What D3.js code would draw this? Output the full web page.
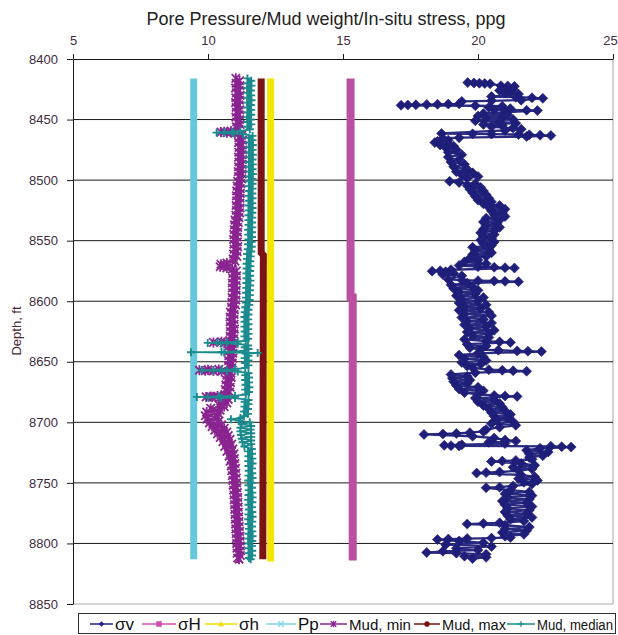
<!DOCTYPE html>
<html lang="en">
<head>
<meta charset="UTF-8">
<title>Pore Pressure / Mud weight / In-situ stress</title>
<script src="https://cdn.jsdelivr.net/npm/d3@7"></script>
<style>
  body { margin: 0; background: #fff; }
  svg { font-family: "Liberation Sans", Arial, sans-serif; }
</style>
</head>
<body>
<div id="chart"></div>
<script>
// axis ticks
const xTicks = [5, 10, 15, 20, 25];
const depthTicks = [8400, 8450, 8500, 8550, 8600, 8650, 8700, 8750, 8800, 8850];
const gridDepths = [8450, 8500, 8550, 8600, 8650, 8700, 8750, 8800];

// series: [depth ft, ppg]
const sigmaV = [
  [8419.5, 19.62], [8419.8, 19.85], [8420.0, 20.05], [8420.2, 20.25], [8420.5, 20.45],
  [8422, 20.85], [8422.3, 21.1], [8422.6, 21.35],
  [8424, 20.9], [8425, 21.3], [8426, 20.8], [8427, 21.2], [8428, 21.0], [8429, 21.5],
  [8431, 20.5], [8431.5, 21.4], [8432, 22.0], [8432.5, 22.4],
  [8434, 21.6], [8434.5, 20.5], [8435, 19.4],
  [8437, 19.3], [8437.2, 18.9], [8437.4, 18.5], [8437.6, 18.1], [8437.8, 17.7], [8438.0, 17.4], [8438.2, 17.15],
  [8438.6, 19.9], [8439, 20.9], [8440, 20.4], [8441, 21.2], [8442, 20.6], [8442.3, 21.8], [8442.6, 22.2],
  [8444, 21.0], [8445, 20.2], [8446, 21.1], [8447, 20.0], [8448, 20.9], [8449, 20.3],
  [8450, 21.3], [8451, 19.9], [8452, 20.8], [8453, 21.4], [8454, 20.2], [8455, 20.9], [8456, 20.5],
  [8457, 21.3], [8458, 21.6], [8459, 21.0],
  [8461.5, 18.65], [8461.8, 19.8], [8462, 20.5], [8462.3, 21.5], [8462.6, 21.9], [8462.9, 22.3], [8463.2, 22.7],
  [8464, 21.8], [8465, 19.3], [8465.5, 18.7],
  [8467, 18.9], [8468, 18.5], [8469, 18.4], [8470, 18.9], [8471, 18.6], [8472, 19.1], [8473, 18.8],
  [8475, 19.2], [8477, 18.9], [8479, 19.4], [8481, 18.9], [8483, 19.3], [8485, 19.0], [8487, 19.5], [8489, 19.1], [8491, 19.6], [8493, 19.2],
  [8494, 19.8], [8495.5, 19.4], [8497, 20.0], [8498.5, 19.6],
  [8501, 18.95], [8502, 19.3], [8503, 19.9],
  [8504.5, 19.6], [8506, 20.1], [8507.5, 19.7], [8509, 20.2],
  [8510.5, 19.8], [8512, 20.3], [8513.5, 19.9], [8515, 20.4], [8516.5, 20.0], [8518, 20.5],
  [8519.5, 20.2], [8521, 20.8], [8522.5, 20.4], [8524, 21.0], [8525.5, 20.5], [8527, 20.9], [8528.5, 20.6], [8530, 21.0],
  [8531.5, 20.3], [8533, 20.8], [8534.5, 20.2], [8536, 20.7], [8537.5, 20.3], [8539, 20.8], [8540.5, 20.2], [8542, 20.6],
  [8543.5, 20.1], [8545, 20.6], [8546.5, 20.2], [8548, 20.5], [8549.5, 20.1], [8551, 20.6], [8552.5, 20.2], [8554, 20.5],
  [8555.5, 19.8], [8557, 20.4], [8558.5, 19.9], [8560, 20.5], [8561.5, 19.8], [8563, 20.3], [8564.5, 19.7],
  [8566, 20.0], [8567.5, 19.5], [8569, 20.3], [8570.5, 19.3], [8571.5, 20.0], [8572, 20.6], [8572.3, 21.0], [8572.6, 21.35],
  [8574, 19.0], [8574.8, 18.6], [8575.2, 18.3], [8575.6, 18.8],
  [8577, 19.1], [8578, 18.7], [8579, 19.4],
  [8582, 18.9], [8582.5, 19.4], [8583, 20.0], [8583.3, 20.6], [8583.6, 21.0], [8583.9, 21.5],
  [8585, 19.6], [8586.5, 19.0], [8588, 19.8], [8589.5, 19.1], [8591, 20.0], [8592.5, 19.3],
  [8594, 19.9], [8595.5, 19.2], [8597, 20.2], [8598.5, 19.4], [8600, 20.0], [8601.5, 19.3], [8603, 20.3], [8604.5, 19.5], [8606, 20.1],
  [8607.5, 19.3], [8609, 20.4], [8610.5, 19.5], [8612, 20.5], [8613.5, 19.4], [8615, 20.2], [8616.5, 19.6], [8618, 20.5],
  [8619.5, 19.5], [8621, 20.3], [8622.5, 19.7], [8624, 20.6], [8625.5, 19.6], [8627, 20.4], [8628.5, 19.8], [8630, 20.4],
  [8631.5, 19.5], [8633, 20.3], [8633.5, 20.8], [8634, 21.2],
  [8635.5, 19.6], [8637, 20.3], [8638.5, 19.7],
  [8640, 20.1], [8640.5, 20.75], [8641, 21.45], [8641.3, 21.85], [8641.6, 22.35],
  [8643, 20.0], [8644.5, 19.3], [8646, 20.2], [8647.5, 19.5], [8649, 20.3], [8650.5, 19.4], [8652, 20.1], [8653.5, 19.6],
  [8655, 19.8], [8656.5, 20.4], [8657, 20.9], [8657.4, 21.3], [8657.8, 21.8],
  [8659, 19.9], [8660.5, 19.0], [8662, 19.6], [8663.5, 19.05], [8665, 19.7], [8666.5, 19.1],
  [8668, 19.6], [8669.5, 19.2], [8671, 20.0], [8672.5, 19.3], [8674, 20.2], [8675.5, 19.5],
  [8677, 20.0], [8677.8, 20.6], [8678.2, 21.0], [8678.6, 21.45],
  [8680, 19.9], [8681.5, 20.6], [8683, 20.0], [8684.5, 20.8], [8686, 20.2], [8687.5, 20.9],
  [8689, 20.4], [8690.5, 21.0], [8692, 20.5], [8693.5, 21.2], [8695, 20.6], [8696.5, 21.1], [8698, 20.7], [8699.5, 21.3],
  [8701, 20.5], [8702.5, 21.4], [8704, 20.8],
  [8706, 20.3], [8707.5, 20.2], [8708.5, 19.7], [8709.2, 19.2], [8709.6, 18.7], [8710, 18.0],
  [8711.5, 19.8], [8713, 20.6], [8714.5, 21.0], [8715.5, 21.4], [8716.5, 20.4], [8717.5, 21.0],
  [8718.5, 19.4], [8719, 18.75], [8719.3, 19.0], [8719.5, 19.3], [8719.8, 22.7], [8720.1, 23.1], [8720.4, 23.45],
  [8721.5, 22.3], [8723, 21.8], [8724.5, 22.6], [8726, 21.9], [8727.5, 22.4], [8729, 21.9],
  [8730.5, 22.0], [8731.5, 21.4], [8732, 20.9], [8732.3, 20.5],
  [8734, 21.6], [8735.5, 22.1], [8737, 21.3], [8738.5, 22.0],
  [8740, 21.5], [8741, 20.8], [8741.5, 20.3], [8741.9, 19.95],
  [8743.5, 21.6], [8745, 22.1], [8746.5, 21.5], [8748, 22.2], [8749.5, 21.7],
  [8751, 22.0], [8752.5, 21.3], [8753.5, 20.8], [8754, 20.3],
  [8756, 21.2], [8757.5, 21.9], [8759, 21.0], [8760.5, 22.0], [8762, 21.1], [8763.5, 21.9], [8765, 20.9], [8766.5, 21.8], [8768, 21.0],
  [8769.5, 22.0], [8771, 21.1], [8772.5, 21.9], [8774, 21.0], [8775.5, 21.8], [8777, 21.1], [8778.5, 22.0], [8780, 21.2],
  [8781.5, 21.7], [8783, 20.8], [8783.5, 20.2], [8784, 19.6], [8785, 21.0],
  [8786.5, 21.9], [8788, 21.0], [8789.5, 21.8], [8791, 20.9], [8792.5, 21.7], [8794, 21.0],
  [8795, 21.2], [8795.6, 20.5], [8796, 19.6], [8796.4, 18.9], [8796.8, 18.5],
  [8798, 19.3], [8799.5, 20.2], [8801, 18.8], [8802.5, 20.5], [8804, 19.2],
  [8805.5, 20.0], [8806.5, 18.7], [8807.5, 18.1], [8808, 19.2], [8809, 20.3],
  [8810.5, 19.5], [8811.5, 20.3], [8812.5, 19.8]
];

const sigmaHmax = [[8416, 15.28], [8597, 15.28], [8597, 15.36], [8814, 15.36]];
const sigmaHmin = [[8416, 12.32], [8815, 12.32]];
const porePressure = [[8416, 9.47], [8813, 9.47]];
const mudMax = [[8416, 11.97], [8560, 11.97], [8562, 12.05], [8813, 12.03]];

const mudMin = [
  [8416, 11.03], [8418, 11.17], [8420, 11.04], [8422, 11.18], [8424, 11.02], [8426, 11.16], [8428, 11.05], [8430, 11.19],
  [8432, 11.03], [8434, 11.17], [8436, 11.02], [8438, 11.15], [8440, 11.04], [8442, 11.18], [8444, 11.05], [8446, 11.16],
  [8448, 11.03], [8450, 11.17], [8452, 11.06], [8454, 11.19], [8456, 11.05], [8458, 11.15],
  [8459.5, 10.85], [8460, 10.6], [8460.4, 10.48], [8460.8, 10.7], [8461.3, 11.0],
  [8463, 11.25], [8465, 11.14], [8467, 11.28], [8469, 11.13], [8471, 11.27], [8473, 11.15], [8475, 11.29], [8477, 11.14],
  [8479, 11.27], [8481, 11.13], [8483, 11.28], [8485, 11.15], [8487, 11.27], [8489, 11.13], [8491, 11.26], [8493, 11.12],
  [8495, 11.27], [8497, 11.13], [8499, 11.25], [8501, 11.1], [8503, 11.22], [8505, 11.08], [8507, 11.2], [8509, 11.06],
  [8511, 11.2], [8513, 11.05], [8515, 11.19], [8517, 11.06], [8519, 11.18], [8521, 11.04], [8523, 11.19], [8525, 11.05],
  [8527, 11.17], [8529, 11.03], [8531, 11.15], [8533, 11.0], [8535, 11.12], [8537, 10.98], [8539, 11.1], [8541, 10.97],
  [8543, 11.1], [8545, 10.96], [8547, 11.08], [8549, 10.95], [8551, 11.09], [8553, 10.96], [8555, 11.1], [8557, 10.97],
  [8559, 11.08], [8561, 10.95], [8563, 11.07], [8565, 10.93], [8567, 11.0],
  [8568.5, 10.7], [8569.5, 10.48], [8570.5, 10.65], [8571.5, 10.45], [8572.5, 10.7], [8573.5, 10.9],
  [8575, 11.05], [8577, 10.92], [8579, 11.06], [8581, 10.91], [8583, 11.05], [8585, 10.9], [8587, 11.04], [8589, 10.9],
  [8591, 11.05], [8593, 10.91], [8595, 11.04], [8597, 10.89], [8599, 11.03], [8601, 10.88], [8603, 11.02], [8605, 10.87],
  [8607, 10.98], [8609, 10.83], [8611, 10.97], [8613, 10.82], [8615, 10.96], [8617, 10.82], [8619, 10.97], [8621, 10.83],
  [8623, 10.98], [8625, 10.83], [8627, 10.96], [8629, 10.82], [8631, 10.95], [8632.5, 10.8],
  [8633.5, 10.5], [8634, 10.2], [8634.4, 10.6], [8635, 10.9],
  [8637, 10.78], [8639, 10.93], [8641, 10.78], [8643, 10.92], [8645, 10.77], [8647, 10.92], [8649, 10.76], [8651, 10.9],
  [8653, 10.75], [8655, 10.88],
  [8656.3, 10.4], [8656.7, 10.0], [8657, 9.68], [8657.3, 9.9], [8657.6, 10.2], [8658, 10.5],
  [8659.5, 10.85], [8661, 10.7], [8663, 10.86], [8665, 10.68], [8667, 10.83], [8669, 10.66], [8671, 10.82], [8673, 10.64],
  [8675, 10.8], [8677, 10.62],
  [8678.3, 10.35], [8678.7, 10.1], [8679, 9.93], [8679.3, 10.15], [8679.6, 10.45],
  [8681, 10.75], [8682.5, 10.55], [8684, 10.7], [8685.5, 10.4], [8687, 10.6],
  [8688.5, 10.1], [8690, 10.45], [8691.5, 9.95], [8693, 10.4], [8694.5, 9.9], [8696, 10.35], [8697.5, 9.95], [8699, 10.4],
  [8700.5, 10.05], [8702, 10.5], [8703.5, 10.15], [8705, 10.6], [8706.5, 10.25], [8708, 10.7], [8709.5, 10.35], [8711, 10.75],
  [8712.5, 10.45], [8714, 10.82], [8716, 10.55], [8718, 10.88], [8720, 10.62], [8722, 10.92], [8724, 10.7], [8726, 10.96],
  [8728, 10.78], [8730, 10.98], [8732, 10.82], [8734, 11.0], [8736, 10.86], [8738, 11.02], [8740, 10.88], [8742, 11.03],
  [8744, 10.9], [8746, 11.05], [8748, 10.92], [8750, 11.06], [8752, 10.93], [8754, 11.07], [8756, 10.95], [8758, 11.09],
  [8760, 10.96], [8762, 11.1], [8764, 10.97], [8766, 11.11], [8768, 10.98], [8770, 11.12], [8772, 10.99], [8774, 11.13],
  [8776, 11.0], [8778, 11.14], [8780, 11.01], [8782, 11.15], [8784, 11.02], [8786, 11.16], [8788, 11.03], [8790, 11.17],
  [8792, 11.04], [8794, 11.18], [8796, 11.05], [8798, 11.19], [8800, 11.06], [8802, 11.2], [8804, 11.07], [8806, 11.21],
  [8808, 11.08], [8810, 11.2], [8812, 11.1], [8813, 11.15]
];

const mudMedian = [
  [8416, 11.46], [8418, 11.6], [8420, 11.47], [8422, 11.61], [8424, 11.45], [8426, 11.59], [8428, 11.46], [8430, 11.6],
  [8432, 11.47], [8434, 11.61], [8436, 11.45], [8438, 11.59], [8440, 11.46], [8442, 11.6], [8444, 11.47], [8446, 11.6],
  [8448, 11.45], [8450, 11.59], [8452, 11.46], [8454, 11.6], [8456, 11.47], [8458, 11.55],
  [8459.5, 11.2], [8460, 10.9], [8460.4, 10.6], [8460.8, 10.32], [8461.2, 10.6], [8461.6, 10.95], [8462, 11.3],
  [8463.5, 11.65], [8465, 11.51], [8467, 11.65], [8469, 11.52], [8471, 11.66], [8473, 11.51], [8475, 11.65], [8477, 11.52],
  [8479, 11.66], [8481, 11.51], [8483, 11.65], [8485, 11.52], [8487, 11.66], [8489, 11.51], [8491, 11.65], [8493, 11.52],
  [8495, 11.66], [8497, 11.51], [8499, 11.65], [8501, 11.52], [8503, 11.65], [8505, 11.51], [8507, 11.65], [8509, 11.52],
  [8511, 11.64], [8513, 11.5], [8515, 11.65], [8517, 11.51], [8519, 11.64], [8521, 11.5], [8523, 11.65], [8525, 11.51],
  [8527, 11.64], [8529, 11.5], [8531, 11.64], [8533, 11.5], [8535, 11.63], [8537, 11.5], [8539, 11.64], [8541, 11.49],
  [8543, 11.63], [8545, 11.49], [8547, 11.63], [8549, 11.5], [8551, 11.62], [8553, 11.48], [8555, 11.62], [8557, 11.47],
  [8559, 11.6], [8561, 11.45], [8563, 11.58], [8565, 11.44], [8567, 11.57], [8569, 11.43], [8571, 11.57], [8573, 11.43],
  [8575, 11.56], [8577, 11.42], [8579, 11.56], [8581, 11.43], [8583, 11.57], [8585, 11.42], [8587, 11.56], [8589, 11.42],
  [8591, 11.55], [8593, 11.41], [8595, 11.55], [8597, 11.41], [8599, 11.54], [8601, 11.4], [8603, 11.53], [8605, 11.38],
  [8607, 11.5], [8609, 11.36], [8611, 11.5], [8613, 11.35], [8615, 11.49], [8617, 11.36], [8619, 11.5], [8621, 11.35],
  [8623, 11.49], [8625, 11.36], [8627, 11.5], [8629, 11.35], [8631, 11.49], [8632.5, 11.4],
  [8633.4, 11.1], [8633.8, 10.7], [8634.1, 10.35], [8634.4, 9.99], [8634.7, 10.5], [8635.2, 11.1],
  [8636.5, 11.48], [8638, 11.36], [8639.5, 11.5], [8641, 11.35], [8641.8, 10.5], [8642.1, 9.37], [8642.4, 10.6], [8642.7, 11.84], [8643.2, 11.4],
  [8645, 11.5], [8647, 11.36], [8649, 11.5], [8651, 11.37], [8653, 11.5], [8655, 11.38],
  [8656.2, 11.0], [8656.6, 10.5], [8657, 9.77], [8657.3, 10.2], [8657.6, 10.7], [8658, 11.1],
  [8659.5, 11.5], [8661, 11.38], [8663, 11.52], [8665, 11.38], [8667, 11.52], [8669, 11.39], [8671, 11.53], [8673, 11.38],
  [8675, 11.52], [8677, 11.4],
  [8678.2, 11.0], [8678.6, 10.4], [8679, 9.59], [8679.3, 10.0], [8679.6, 10.5], [8680, 11.0],
  [8681.5, 11.5], [8683, 11.36], [8685, 11.5], [8687, 11.35], [8689, 11.48], [8691, 11.34], [8693, 11.48], [8695, 11.33],
  [8696.5, 11.2], [8697.5, 10.85], [8698.5, 11.15],
  [8700, 11.55], [8701.5, 11.25], [8703, 11.6], [8704.5, 11.2], [8706, 11.58], [8707.5, 11.2], [8709, 11.6], [8710.5, 11.22],
  [8712, 11.6], [8713.5, 11.25], [8715, 11.6], [8716.5, 11.28], [8718, 11.6], [8720, 11.35],
  [8722, 11.62], [8724, 11.48], [8726, 11.63], [8728, 11.5], [8730, 11.64], [8732, 11.49], [8734, 11.65], [8736, 11.5],
  [8738, 11.63], [8740, 11.51], [8742, 11.64], [8744, 11.5], [8746, 11.65], [8748, 11.49], [8750, 11.64], [8752, 11.5],
  [8754, 11.63], [8756, 11.51], [8758, 11.64], [8760, 11.5], [8762, 11.65], [8764, 11.49], [8766, 11.64], [8768, 11.5],
  [8770, 11.63], [8772, 11.51], [8774, 11.64], [8776, 11.5], [8778, 11.65], [8780, 11.49], [8782, 11.64], [8784, 11.5],
  [8786, 11.63], [8788, 11.51], [8790, 11.64], [8792, 11.5], [8794, 11.65], [8796, 11.49], [8798, 11.64], [8800, 11.5],
  [8802, 11.63], [8804, 11.51], [8806, 11.64], [8808, 11.5], [8810, 11.63], [8812, 11.52], [8813, 11.58]
];

const legendNames = ["σv", "σH", "σh", "Pp", "Mud, min", "Mud, max", "Mud, median"];

const width = 618, height = 635;

const svg = d3.select("#chart").append("svg")
  .attr("width", width)
  .attr("height", height);

const x = d3.scaleLinear().domain([5, 25]).range([73, 613]);
const y = d3.scaleLinear().domain([8400, 8850]).range([59, 604]);

// marker shapes (Excel-ish)
const diamond = { draw(ctx, s) { const r = Math.sqrt(s) / 2; ctx.moveTo(0, -r); ctx.lineTo(r, 0); ctx.lineTo(0, r); ctx.lineTo(-r, 0); ctx.closePath(); } };
const square = { draw(ctx, s) { const r = Math.sqrt(s) / 2; ctx.rect(-r, -r, 2 * r, 2 * r); } };
const triangle = { draw(ctx, s) { const r = Math.sqrt(s) / 2; ctx.moveTo(0, -r); ctx.lineTo(r, r * 0.8); ctx.lineTo(-r, r * 0.8); ctx.closePath(); } };
const cross = { draw(ctx, s) { const r = Math.sqrt(s) / 2; ctx.moveTo(-r, -r); ctx.lineTo(r, r); ctx.moveTo(r, -r); ctx.lineTo(-r, r); } };
const star = { draw(ctx, s) { const r = Math.sqrt(s) / 2; ctx.moveTo(-r, -r); ctx.lineTo(r, r); ctx.moveTo(r, -r); ctx.lineTo(-r, r); ctx.moveTo(0, -r * 1.2); ctx.lineTo(0, r * 1.2); } };
const plus = { draw(ctx, s) { const r = Math.sqrt(s) / 2; ctx.moveTo(-r, 0); ctx.lineTo(r, 0); ctx.moveTo(0, -r); ctx.lineTo(0, r); } };
const circle = { draw(ctx, s) { const r = Math.sqrt(s) / 2; ctx.moveTo(r, 0); ctx.arc(0, 0, r, 0, 2 * Math.PI); } };

// plot frame
svg.append("line")
  .attr("x1", x(25)).attr("x2", x(25)).attr("y1", y(8400)).attr("y2", y(8850))
  .attr("stroke", "#a8a8a8");
svg.append("line")
  .attr("x1", x(5)).attr("x2", x(25)).attr("y1", y(8850)).attr("y2", y(8850))
  .attr("stroke", "#a8a8a8");

svg.append("g").selectAll("line")
  .data(gridDepths)
  .join("line")
  .attr("x1", x(5)).attr("x2", x(25))
  .attr("y1", d => y(d)).attr("y2", d => y(d))
  .attr("stroke", "#1a1a1a").attr("stroke-width", 1);

const line = d3.line().x(d => x(d[1])).y(d => y(d[0]));

// σv
svg.append("path").datum(sigmaV)
  .attr("d", line).attr("fill", "none")
  .attr("stroke", "#2a2a80").attr("stroke-width", 2.3);
svg.append("g").selectAll("path")
  .data(sigmaV)
  .join("path")
  .attr("transform", d => `translate(${x(d[1])},${y(d[0])})`)
  .attr("d", d3.symbol().type(diamond).size(100))
  .attr("fill", "#1f1f7a").attr("stroke", "#1f1f7a").attr("stroke-width", 0.6);

// thick constant-ish series
function band(data, color, w) {
  svg.append("path").datum(data)
    .attr("d", line).attr("fill", "none")
    .attr("stroke", color).attr("stroke-width", w)
    .attr("stroke-linejoin", "miter");
}
band(sigmaHmax, "#bc4fa3", 8);
band(sigmaHmin, "#f3e600", 7);
band(porePressure, "#66c8dc", 7);

// mud min
svg.append("path").datum(mudMin)
  .attr("d", line).attr("fill", "none")
  .attr("stroke", "#8a2490").attr("stroke-width", 2);
svg.append("g").selectAll("path")
  .data(mudMin)
  .join("path")
  .attr("transform", d => `translate(${x(d[1])},${y(d[0])})`)
  .attr("d", d3.symbol().type(star).size(70))
  .attr("fill", "none").attr("stroke", "#8a2490").attr("stroke-width", 1.8);

band(mudMax, "#7b1313", 7);

// mud median
svg.append("path").datum(mudMedian)
  .attr("d", line).attr("fill", "none")
  .attr("stroke", "#1b8b8d").attr("stroke-width", 1.8);
svg.append("g").selectAll("path")
  .data(mudMedian)
  .join("path")
  .attr("transform", d => `translate(${x(d[1])},${y(d[0])})`)
  .attr("d", d3.symbol().type(plus).size(64))
  .attr("fill", "none").attr("stroke", "#1b8b8d").attr("stroke-width", 1.9);

// axes
const xAxis = svg.append("g")
  .attr("transform", `translate(0,${y(8400)})`)
  .call(d3.axisTop(x).tickValues(xTicks).tickSize(5).tickPadding(9).tickSizeOuter(0));
const yAxis = svg.append("g")
  .attr("transform", `translate(${x(5)},0)`)
  .call(d3.axisLeft(y).tickValues(depthTicks).tickSize(6).tickPadding(9).tickSizeOuter(0).tickFormat(d3.format("d")));

[xAxis, yAxis].forEach(g => {
  g.select(".domain").attr("stroke", "#1a1a1a");
  g.selectAll(".tick line").attr("stroke", "#1a1a1a");
  g.selectAll(".tick text")
    .attr("fill", "#3e2c3e")
    .attr("font-size", 13)
    .attr("font-family", "Liberation Sans, Arial, sans-serif");
});
xAxis.selectAll(".tick text").filter(d => d === 25).attr("dx", -3);

// titles
svg.append("text")
  .attr("x", 326).attr("y", 25)
  .attr("text-anchor", "middle")
  .attr("font-size", 18)
  .attr("fill", "#222")
  .text("Pore Pressure/Mud weight/In-situ stress, ppg");

svg.append("text")
  .attr("transform", "translate(21,331) rotate(-90)")
  .attr("text-anchor", "middle")
  .attr("font-size", 13)
  .attr("fill", "#4a2634")
  .text("Depth, ft");

// legend
const legendStyle = [
  { color: "#22228a", shape: diamond, fill: true, fs: 17 },
  { color: "#d04fb2", shape: square, fill: true, fs: 17 },
  { color: "#f0e000", shape: triangle, fill: true, fs: 17 },
  { color: "#7fd3e6", shape: cross, fill: false, fs: 17 },
  { color: "#8a2490", shape: star, fill: false, fs: 14 },
  { color: "#7b1313", shape: circle, fill: true, fs: 14 },
  { color: "#1b8b8d", shape: plus, fill: false, fs: 14 }
];
// item slots along the legend box: line start, text start, text length
const legendSlots = [[90, 115, 0], [142, 178, 0], [205, 239, 0], [266, 298, 0], [320, 349, 62], [414, 442, 64], [507, 537, 76]];

const legend = svg.append("g");
legend.append("rect")
  .attr("x", 78.5).attr("y", 613.5)
  .attr("width", 537).attr("height", 20)
  .attr("fill", "#fff").attr("stroke", "#333");

legendNames.forEach((name, i) => {
  const st = legendStyle[i];
  const [l0, t0, tl] = legendSlots[i];
  const item = legend.append("g");
  item.append("line")
    .attr("x1", l0).attr("x2", t0 - 2)
    .attr("y1", 624).attr("y2", 624)
    .attr("stroke", st.color).attr("stroke-width", 1.5);
  item.append("path")
    .attr("transform", `translate(${(l0 + t0 - 2) / 2},624)`)
    .attr("d", d3.symbol().type(st.shape).size(st.shape === star || st.shape === plus || st.shape === cross ? 30 : 26))
    .attr("fill", st.fill ? st.color : "none")
    .attr("stroke", st.color).attr("stroke-width", st.fill ? 0.5 : 1.3);
  const t = item.append("text")
    .attr("x", t0).attr("y", 630)
    .attr("font-size", st.fs)
    .attr("fill", "#111")
    .text(name);
  if (tl) t.attr("textLength", tl).attr("lengthAdjust", "spacingAndGlyphs");
});
</script>
</body>
</html>
